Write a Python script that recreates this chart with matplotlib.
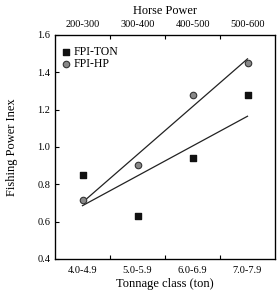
import numpy as np
import matplotlib
matplotlib.use("Agg")
import matplotlib.pyplot as plt

plt.rcParams['font.family'] = ['Liberation Serif', 'DejaVu Serif']

tonnage_classes = ["4.0-4.9", "5.0-5.9", "6.0-6.9", "7.0-7.9"]
hp_classes = ["200-300", "300-400", "400-500", "500-600"]
fpi_ton = [0.849, 0.633, 0.940, 1.279]
fpi_hp = [0.718, 0.906, 1.279, 1.448]

fig = plt.figure(figsize=(2.77, 2.91), dpi=100)
ax = fig.add_axes([55/277, 1-259/291, 220/277, 224/291])

x = np.arange(1, len(tonnage_classes) + 1)
ax.scatter(x, fpi_ton, marker='s', s=22, color='#111111', label='FPI-TON', zorder=3)
ax.scatter(x, fpi_hp, marker='o', s=22, facecolor='#888888', edgecolor='#333333',
           linewidth=0.8, label='FPI-HP', zorder=3)

for vals in (fpi_ton, fpi_hp):
    m, b = np.polyfit(x, vals, 1)
    ax.plot([x[0], x[-1]], [m*x[0]+b, m*x[-1]+b], color='#222222', lw=0.9, zorder=2)

ax.set_xlim(0.5, 4.5)
ax.set_ylim(0.4, 1.6)
ax.set_yticks([0.4, 0.6, 0.8, 1.0, 1.2, 1.4, 1.6])
ax.set_yticklabels([f"{v:.1f}" for v in [0.4, 0.6, 0.8, 1.0, 1.2, 1.4, 1.6]])
ax.set_xticks(x)
ax.set_xticklabels(tonnage_classes)
ax.set_xticks([1.5, 2.5, 3.5], minor=True)
ax.tick_params(axis='x', which='major', length=0, labelsize=7.5, pad=5)
ax.tick_params(axis='x', which='minor', length=3, direction='in', width=0.8)
ax.tick_params(axis='y', length=3, direction='in', labelsize=7.5, width=0.8)
ax.set_xlabel("Tonnage class (ton)", fontsize=9, labelpad=2)
ax.set_ylabel("Fishing Power Inex", fontsize=9, labelpad=14)

for s in ax.spines.values():
    s.set_linewidth(0.9)

ax2 = ax.twiny()
ax2.set_xlim(ax.get_xlim())
ax2.set_xticks(x)
ax2.set_xticklabels(hp_classes)
ax2.set_xticks([1.5, 2.5, 3.5], minor=True)
ax2.tick_params(axis='x', which='major', length=0, labelsize=7.5, pad=4)
ax2.tick_params(axis='x', which='minor', length=3, direction='in', width=0.8)
ax2.set_xlabel("Horse Power", fontsize=8.8, labelpad=5)

leg = ax.legend(loc='upper left', frameon=False, fontsize=8.5, handletextpad=0.0,
                borderaxespad=0.0, labelspacing=-0.05, handlelength=1.2,
                borderpad=0.0, bbox_to_anchor=(0.02, 0.95))

fig.savefig("out.png", dpi=100)
